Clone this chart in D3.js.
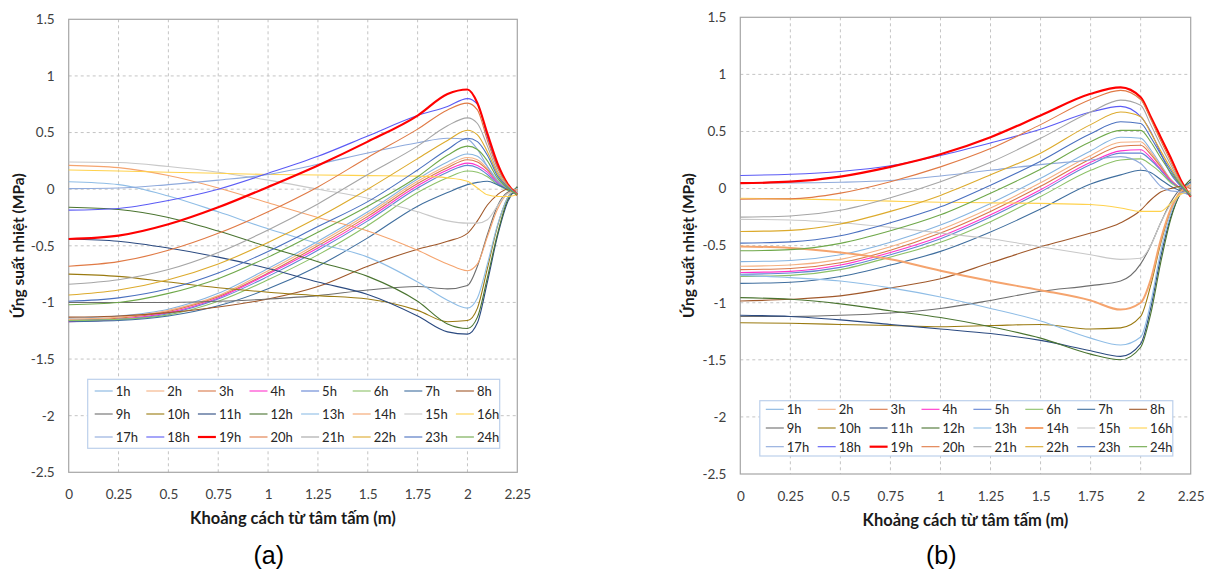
<!DOCTYPE html>
<html>
<head>
<meta charset="utf-8">
<script src="https://cdn.jsdelivr.net/npm/d3@7"></script>
<style>
  body { margin: 0; background: #fff; }
  svg { display: block; }
</style>
</head>
<body>
<div id="chart"></div>
<script>
// distance from slab centre (m)
var xs = [0, 0.25, 0.5, 0.75, 1, 1.25, 1.5, 1.75, 1.9, 2.0, 2.05, 2.1, 2.15, 2.2, 2.25];

var hours = ["1h","2h","3h","4h","5h","6h","7h","8h","9h","10h","11h","12h",
             "13h","14h","15h","16h","17h","18h","19h","20h","21h","22h","23h","24h"];

var xTicks = [0, 0.25, 0.5, 0.75, 1, 1.25, 1.5, 1.75, 2, 2.25];
var yTicks = [-2.5, -2, -1.5, -1, -0.5, 0, 0.5, 1, 1.5];

var colors = ["#86b4e0","#f4b183","#d9784a","#ff33cc","#6384d4","#8cc168","#3f6e9e","#a0582a",
              "#6e6e6e","#9a7a10","#2b4a80","#4a7430","#8fbde6","#f5a46e","#c8c8c8","#ffd24d",
              "#8faadc","#5b5bf5","#ff0000","#e07a45","#a5a5a5","#dcaa2c","#4a70bf","#6fa84a"];

// panel (a): stress (MPa) per hour, one row per hour 1h..24h
var panelA = [
  [-1.14,-1.12,-1.06,-0.92,-0.70,-0.46,-0.20, 0.09, 0.24, 0.31, 0.29, 0.20, 0.08, 0.00,-0.05],
  [-1.15,-1.13,-1.07,-0.94,-0.72,-0.48,-0.22, 0.07, 0.21, 0.28, 0.26, 0.18, 0.07, 0.00,-0.05],
  [-1.16,-1.14,-1.08,-0.95,-0.74,-0.50,-0.24, 0.05, 0.19, 0.26, 0.24, 0.17, 0.07, 0.00,-0.05],
  [-1.17,-1.15,-1.09,-0.96,-0.75,-0.52,-0.26, 0.03, 0.17, 0.23, 0.21, 0.15, 0.06, 0.00,-0.05],
  [-1.16,-1.15,-1.10,-0.97,-0.77,-0.54,-0.28, 0.01, 0.15, 0.21, 0.19, 0.13, 0.05, 0.00,-0.05],
  [-1.16,-1.15,-1.11,-0.99,-0.80,-0.58,-0.32,-0.03, 0.10, 0.16, 0.15, 0.11, 0.04,-0.01,-0.05],
  [-1.17,-1.16,-1.12,-1.03,-0.88,-0.68,-0.43,-0.15,-0.03, 0.04, 0.06, 0.07, 0.04, 0.00,-0.05],
  [-1.13,-1.12,-1.09,-1.04,-0.97,-0.86,-0.68,-0.53,-0.46,-0.39,-0.28,-0.14,-0.05, 0.00,-0.02],
  [-1.00,-1.00,-1.00,-0.99,-0.97,-0.94,-0.89,-0.86,-0.88,-0.85,-0.68,-0.40,-0.15,-0.03, 0.00],
  [-0.75,-0.77,-0.82,-0.87,-0.91,-0.94,-0.97,-1.07,-1.17,-1.16,-1.05,-0.70,-0.33,-0.08, 0.02],
  [-0.44,-0.46,-0.52,-0.60,-0.70,-0.82,-0.93,-1.12,-1.26,-1.28,-1.18,-0.82,-0.42,-0.12, 0.02],
  [-0.16,-0.18,-0.25,-0.37,-0.51,-0.64,-0.77,-0.99,-1.19,-1.23,-1.13,-0.78,-0.40,-0.10, 0.02],
  [ 0.065,0.04,-0.06,-0.20,-0.35,-0.48,-0.60,-0.82,-0.98,-1.05,-0.96,-0.66,-0.32,-0.08, 0.01],
  [ 0.21, 0.19, 0.12, 0.01,-0.12,-0.25,-0.37,-0.54,-0.66,-0.72,-0.66,-0.42,-0.18,-0.04, 0.00],
  [ 0.24, 0.235,0.20, 0.15, 0.08, 0.00,-0.08,-0.20,-0.28,-0.30,-0.30,-0.27,-0.15,-0.04,-0.02],
  [ 0.17, 0.16, 0.15, 0.14, 0.13, 0.125,0.12,0.115,0.10, 0.07, 0.01,-0.05,-0.065,-0.065,-0.05],
  [ 0.005,0.01,0.04, 0.08, 0.13, 0.22, 0.32, 0.41, 0.45, 0.44, 0.35, 0.20, 0.07, 0.01,-0.03],
  [-0.185,-0.17,-0.10,0.00, 0.14, 0.29, 0.47, 0.65, 0.73, 0.80, 0.75, 0.46, 0.20, 0.04,-0.05],
  [-0.44,-0.41,-0.31,-0.16, 0.02, 0.21, 0.42, 0.65, 0.84, 0.88, 0.76, 0.49, 0.23, 0.05,-0.05],
  [-0.68,-0.64,-0.54,-0.39,-0.20, 0.02, 0.28, 0.53, 0.70, 0.76, 0.70, 0.43, 0.19, 0.04,-0.05],
  [-0.84,-0.80,-0.71,-0.56,-0.36,-0.13, 0.13, 0.38, 0.56, 0.63, 0.58, 0.38, 0.16, 0.03,-0.05],
  [-0.935,-0.89,-0.80,-0.66,-0.47,-0.25,0.00, 0.27, 0.43, 0.52, 0.48, 0.33, 0.14, 0.02,-0.05],
  [-0.99,-0.96,-0.88,-0.74,-0.55,-0.33,-0.11, 0.17, 0.35, 0.45, 0.42, 0.30, 0.12, 0.02,-0.05],
  [-1.02,-1.00,-0.92,-0.79,-0.60,-0.38,-0.15, 0.11, 0.30, 0.38, 0.35, 0.25, 0.10, 0.01,-0.05]
];

// panel (b)
var panelB = [
  [-0.64,-0.63,-0.58,-0.47,-0.32,-0.13, 0.09, 0.33, 0.45, 0.44, 0.34, 0.21, 0.08, 0.00,-0.06],
  [-0.68,-0.67,-0.62,-0.51,-0.36,-0.17, 0.05, 0.29, 0.405,0.41, 0.32, 0.20, 0.08, 0.00,-0.06],
  [-0.71,-0.70,-0.65,-0.54,-0.39,-0.20, 0.02, 0.26, 0.37, 0.38, 0.30, 0.19, 0.07, 0.00,-0.06],
  [-0.735,-0.725,-0.67,-0.56,-0.42,-0.23,-0.01,0.23, 0.33, 0.34, 0.27, 0.17, 0.07, 0.00,-0.06],
  [-0.75,-0.74,-0.69,-0.58,-0.44,-0.25,-0.03, 0.21, 0.31, 0.31, 0.25, 0.16, 0.06, 0.00,-0.06],
  [-0.77,-0.76,-0.71,-0.60,-0.47,-0.29,-0.07, 0.16, 0.25, 0.26, 0.21, 0.14, 0.05, 0.00,-0.06],
  [-0.83,-0.82,-0.77,-0.67,-0.55,-0.38,-0.18, 0.04, 0.12, 0.16, 0.14, 0.08, 0.02,-0.02,-0.06],
  [-0.985,-0.97,-0.94,-0.87,-0.79,-0.65,-0.51,-0.39,-0.30,-0.19,-0.10,-0.03, 0.00, 0.02, 0.00],
  [-1.12,-1.12,-1.11,-1.09,-1.05,-0.98,-0.90,-0.85,-0.81,-0.66,-0.50,-0.30,-0.12, 0.00, 0.05],
  [-1.175,-1.18,-1.19,-1.20,-1.21,-1.20,-1.19,-1.23,-1.22,-1.12,-0.85,-0.48,-0.19,-0.02, 0.05],
  [-1.11,-1.12,-1.15,-1.19,-1.23,-1.27,-1.33,-1.42,-1.47,-1.36,-1.05,-0.60,-0.25,-0.04, 0.06],
  [-0.955,-0.97,-1.01,-1.07,-1.13,-1.21,-1.31,-1.45,-1.50,-1.39,-1.10,-0.65,-0.27,-0.03, 0.08],
  [-0.76,-0.78,-0.81,-0.87,-0.95,-1.05,-1.16,-1.31,-1.37,-1.30,-1.00,-0.55,-0.22,-0.03, 0.05],
  [-0.507,-0.52,-0.56,-0.62,-0.72,-0.81,-0.89,-0.98,-1.06,-1.00,-0.80,-0.45,-0.18,-0.03, 0.03],
  [-0.27,-0.275,-0.30,-0.34,-0.39,-0.44,-0.51,-0.58,-0.62,-0.61,-0.50,-0.30,-0.14,-0.05,-0.02],
  [-0.085,-0.09,-0.10,-0.11,-0.12,-0.125,-0.13,-0.14,-0.17,-0.20,-0.20,-0.20,-0.13,-0.05,-0.02],
  [ 0.05, 0.05, 0.055,0.07, 0.11, 0.16, 0.21, 0.25, 0.28, 0.22, 0.12, 0.02,-0.02,-0.03,-0.06],
  [ 0.115,0.125,0.15, 0.20, 0.29, 0.40, 0.52, 0.67, 0.72, 0.63, 0.50, 0.31, 0.13, 0.02,-0.06],
  [ 0.047,0.06, 0.105,0.19, 0.30, 0.45, 0.64, 0.83, 0.886,0.80, 0.63, 0.45, 0.27, 0.075,-0.07],
  [-0.093,-0.09,-0.04, 0.06, 0.19, 0.35, 0.56, 0.78, 0.86, 0.78, 0.61, 0.42, 0.24, 0.06,-0.06],
  [-0.25,-0.24,-0.19,-0.08, 0.06, 0.23, 0.44, 0.67, 0.775,0.73, 0.56, 0.38, 0.21, 0.05,-0.06],
  [-0.376,-0.366,-0.31,-0.20,-0.06,0.12, 0.31, 0.56, 0.67, 0.63, 0.49, 0.33, 0.18, 0.04,-0.06],
  [-0.478,-0.467,-0.414,-0.30,-0.16,0.03,0.24, 0.48, 0.585,0.57, 0.45, 0.30, 0.16, 0.03,-0.06],
  [-0.545,-0.535,-0.48,-0.37,-0.23,-0.04,0.17, 0.41, 0.51, 0.51, 0.41, 0.27, 0.14, 0.03,-0.06]
];

var svg = d3.select("#chart")
    .append("svg")
    .attr("width", 1215)
    .attr("height", 570);

function lineWidth(i, panel) {
    if (i === 18) return 2.2;              // 19h drawn thick
    if (panel === "b" && i === 13) return 2; // 14h thick in (b)
    return 1.1;
}

function drawPanel(cfg) {
    var g = svg.append("g")
        .attr("transform", "translate(" + cfg.left + "," + cfg.top + ")");

    var x = d3.scaleLinear().domain([0, 2.25]).range([0, cfg.w]);
    var y = d3.scaleLinear().domain([-2.5, 1.5]).range([cfg.h, 0]);

    // dashed grid
    g.selectAll(".gx").data(xTicks.slice(1, -1)).enter().append("line")
        .attr("x1", function(d) { return x(d); }).attr("x2", function(d) { return x(d); })
        .attr("y1", 0).attr("y2", cfg.h)
        .style("stroke", "#c4c4c4").style("stroke-dasharray", "3,3");
    g.selectAll(".gy").data(yTicks.slice(1, -1)).enter().append("line")
        .attr("x1", 0).attr("x2", cfg.w)
        .attr("y1", function(d) { return y(d); }).attr("y2", function(d) { return y(d); })
        .style("stroke", "#c4c4c4").style("stroke-dasharray", "3,3");

    g.append("rect")
        .attr("width", cfg.w).attr("height", cfg.h)
        .attr("fill", "none").attr("stroke", "#a6a6a6").attr("stroke-width", 1.2);

    var line = d3.line()
        .x(function(d, i) { return x(xs[i]); })
        .y(function(d) { return y(d); })
        .curve(d3.curveMonotoneX);

    g.selectAll(".series").data(cfg.data).enter().append("path")
        .attr("class", "series")
        .attr("d", line)
        .attr("fill", "none")
        .attr("stroke", function(d, i) { return colors[i]; })
        .attr("stroke-width", function(d, i) { return lineWidth(i, cfg.name); });

    // axes (text only)
    var ya = g.append("g")
        .call(d3.axisLeft(y).tickValues(yTicks).tickSize(0).tickPadding(14)
            .tickFormat(function(d) { return String(d); }));
    var xa = g.append("g")
        .attr("transform", "translate(0," + cfg.h + ")")
        .call(d3.axisBottom(x).tickValues(xTicks).tickSize(0).tickPadding(17)
            .tickFormat(function(d) { return String(d); }));
    [ya, xa].forEach(function(a) {
        a.select(".domain").remove();
        a.selectAll("text")
            .attr("font-family", "Lato, 'Open Sans', sans-serif")
            .style("font-size", "13.5px")
            .style("fill", "#404040");
    });

    // axis titles
    g.append("text")
        .attr("x", cfg.w / 2).attr("y", cfg.h + 46)
        .attr("text-anchor", "middle").attr("dominant-baseline", "central")
        .attr("font-family", "Lato, sans-serif").attr("font-weight", "bold")
        .style("font-size", "16.5px").style("fill", "#1a1a1a")
        .text("Khoảng cách từ tâm tấm (m)");
    g.append("text")
        .attr("transform", "translate(" + (18 - cfg.left + cfg.offX) + "," + cfg.h / 2 + ") rotate(-90)")
        .attr("text-anchor", "middle").attr("dominant-baseline", "central")
        .attr("font-family", "Lato, sans-serif").attr("font-weight", "bold")
        .style("font-size", "15.5px").style("fill", "#1a1a1a")
        .text("Ứng suất nhiệt (MPa)");
    g.append("text")
        .attr("x", cfg.labelX).attr("y", 555 - cfg.top)
        .attr("text-anchor", "middle").attr("dominant-baseline", "central")
        .attr("font-family", "'Liberation Sans', Arial, sans-serif")
        .style("font-size", "25px").style("fill", "#000")
        .text(cfg.label);

    // legend
    var L = cfg.legend;
    var lg = g.append("g").attr("transform", "translate(" + L.x + "," + L.y + ")");
    lg.append("rect")
        .attr("width", L.w).attr("height", L.h)
        .attr("fill", "#fff").attr("stroke", "#bcd0ec").attr("stroke-width", 1.2);
    var items = lg.selectAll(".item").data(hours).enter().append("g")
        .attr("transform", function(d, i) {
            return "translate(" + (L.x0 + (i % 8) * L.colW) + "," + (L.y0 + Math.floor(i / 8) * L.rowH) + ")";
        });
    items.append("line")
        .attr("x1", 0).attr("x2", 18).attr("y1", 0).attr("y2", 0)
        .attr("stroke", function(d, i) { return colors[i]; })
        .attr("stroke-width", function(d, i) { return lineWidth(i, cfg.name); });
    items.append("text")
        .attr("x", 21).attr("y", 0)
        .attr("dominant-baseline", "central")
        .attr("font-family", "Lato, 'Open Sans', sans-serif")
        .style("font-size", "13px").style("fill", "#262626")
        .text(function(d) { return d; });
}

drawPanel({
    name: "a", data: panelA, label: "(a)",
    left: 68.7, top: 19.3, w: 448.6, h: 453, offX: 0, labelX: 200,
    legend: { x: 19, y: 360, w: 412, h: 69, x0: 7, y0: 11.7, colW: 51.6, rowH: 23 }
});
drawPanel({
    name: "b", data: panelB, label: "(b)",
    left: 740.3, top: 17.3, w: 450.4, h: 456.7, offX: 670, labelX: 201,
    legend: { x: 19.5, y: 383.4, w: 413, h: 55.3, x0: 6, y0: 8.6, colW: 51.9, rowH: 18.7 }
});
</script>
</body>
</html>
